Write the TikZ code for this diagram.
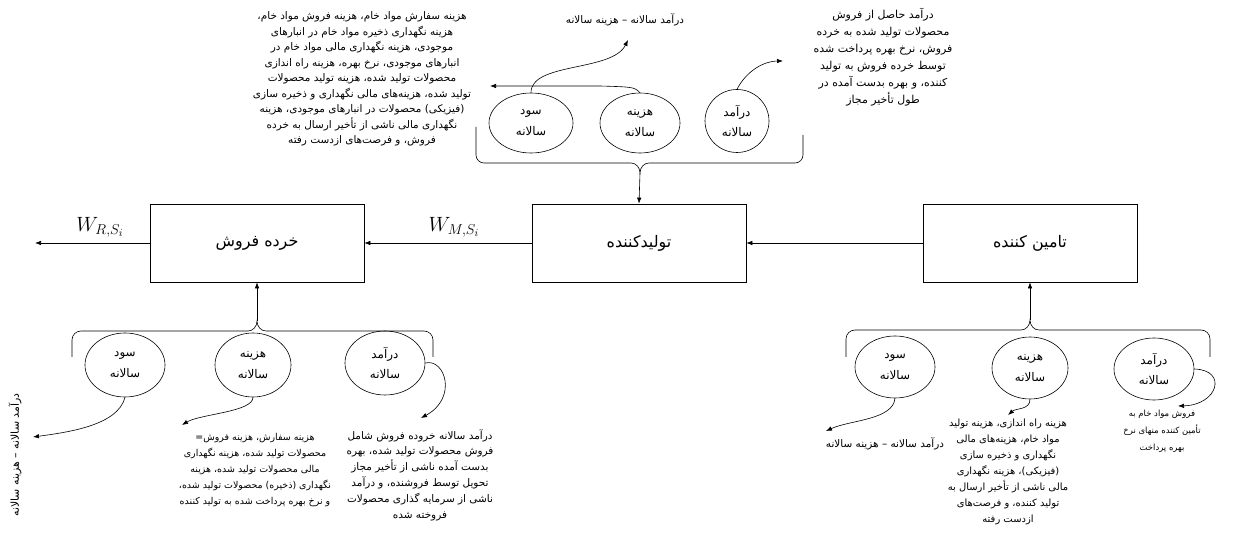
\documentclass[tikz,border=0pt]{standalone}
\usepackage{fontspec}
\usetikzlibrary{arrows.meta,shapes.geometric}
\TeXXeTstate=1
\newfontfamily\arabicfont[Script=Arabic]{DejaVu Sans}
\newcommand{\fa}[1]{\beginR #1\endR}
\begin{document}
\begin{tikzpicture}[x=1bp,y=-1bp,
  box/.style={draw, line width=0.7bp, minimum width=214bp, minimum height=78bp, inner sep=0pt,
    font=\arabicfont\fontsize{16}{19}\selectfont},
  ell/.style={draw, ellipse, line width=0.6bp, inner sep=0pt, align=center,
    font=\arabicfont\fontsize{12}{21}\selectfont},
  arr/.style={-{Latex[length=6bp,width=4.5bp]}, line width=0.6bp},
  con/.style={line width=0.6bp},
  lbl/.style={align=center, inner sep=0pt, font=\arabicfont\fontsize{10}{16}\selectfont},
  wl/.style={inner sep=0pt, font=\fontsize{22}{26}\selectfont}]
\useasboundingbox (0,0) rectangle (1236,538);
% boxes
\node[box] (R) at (257,243) {\fa{خرده فروش}};
\node[box] (M) at (639,243) {\fa{تولیدکننده}};
\node[box] (S) at (1030,243) {\fa{تامین کننده}};
\coordinate (wout) at (35,243);
\draw[arr] (S.west) -- (M.east);
\draw[arr] (M.west) -- (R.east);
\draw[arr] (R.west) -- (wout);
\node[wl] (wr) at (100,227) {$W_{R,S_i}$};
\node[wl] (wm) at (454,227) {$W_{M,S_i}$};
% top ellipses
\node[ell, minimum width=84bp, minimum height=60bp] (ts) at (531,123) {\fa{سود}\\\fa{سالانه}};
\node[ell, minimum width=80bp, minimum height=60bp] (th) at (640,123) {\fa{هزینه}\\\fa{سالانه}};
\node[ell, minimum width=64bp, minimum height=63bp] (td) at (737,121) {\fa{درآمد}\\\fa{سالانه}};
% top brace
\coordinate (tt) at (640,173);
\draw[con] (476,127) -- (476,155) to[out=-90,in=180] (484,163) -- (631,163) to[out=0,in=90] (tt)
  to[out=90,in=180] (649,163) -- (795,163) to[out=0,in=-90] (803,155) -- (803,135);
\draw[arr] (tt) -- (M.north);
% top texts
\node[lbl, font=\arabicfont\fontsize{10.5}{15.5}\selectfont] (tl) at (362,79) {\fa{هزینه سفارش مواد خام، هزینه فروش مواد خام،}\\
\fa{هزینه نگهداری ذخیره مواد خام در انبارهای}\\
\fa{موجودی، هزینه نگهداری مالی مواد خام در}\\
\fa{انبارهای موجودی، نرخ بهره، هزینه راه اندازی}\\
\fa{محصولات تولید شده، هزینه تولید محصولات}\\
\fa{تولید شده، هزینه‌های مالی نگهداری و ذخیره سازی}\\
\fa{(فیزیکی) محصولات در انبارهای موجودی، هزینه}\\
\fa{نگهداری مالی ناشی از تأخیر ارسال به خرده}\\
\fa{فروش، و فرصت‌های ازدست رفته}};
\node[lbl, font=\arabicfont\fontsize{10.5}{16}\selectfont] (tm) at (625,20) {\fa{درآمد سالانه – هزینه سالانه}};
\node[lbl, font=\arabicfont\fontsize{11}{17}\selectfont] (tr) at (883,57) {\fa{درآمد حاصل از فروش}\\
\fa{محصولات تولید شده به خرده}\\
\fa{فروش، نرخ بهره پرداخت شده}\\
\fa{توسط خرده فروش به تولید}\\
\fa{کننده، و بهره بدست آمده در}\\
\fa{طول تأخیر مجاز}};
\coordinate (tmtip) at (628,40);
\coordinate (tltip) at (490,86);
\coordinate (trtip) at (783,61);
\draw[arr] (ts.north) .. controls (531,62) and (612,72) .. (tmtip);
\draw[arr] (th.north) .. controls (634,87) .. (600,86) -- (tltip);
\draw[arr] (td.north) .. controls (747,70) and (765,61) .. (trtip);
% bottom-left
\node[ell, minimum width=80bp, minimum height=64bp] (bs1) at (125,365) {\fa{سود}\\\fa{سالانه}};
\node[ell, minimum width=76bp, minimum height=64bp] (bh1) at (253,365) {\fa{هزینه}\\\fa{سالانه}};
\node[ell, minimum width=80bp, minimum height=64bp] (bd1) at (385,363) {\fa{درآمد}\\\fa{سالانه}};
\coordinate (bt1) at (257,321);
\draw[con] (72,357) -- (72,340) to[out=90,in=180] (81,331) -- (248,331) to[out=0,in=-90] (bt1)
  to[out=-90,in=180] (266,331) -- (424,331) to[out=0,in=90] (433,340) -- (433,357);
\draw[arr] (bt1) -- (R.south);
\node[lbl, rotate=90, font=\arabicfont\fontsize{11}{16}\selectfont] (vt) at (15,455) {\fa{درآمد سالانه – هزینه سالانه}};
\node[lbl, anchor=north, font=\arabicfont\fontsize{9.5}{16}\selectfont] (bh1t) at (255,433) {\fa{هزینه سفارش، هزینه فروش=}\\
\fa{محصولات تولید شده، هزینه نگهداری}\\
\fa{مالی محصولات تولید شده، هزینه}\\
\fa{نگهداری (ذخیره) محصولات تولید شده،}\\
\fa{و نرخ بهره پرداخت شده به تولید کننده}};
\node[lbl, anchor=north, font=\arabicfont\fontsize{10.5}{16}\selectfont] (bd1t) at (420,429) {\fa{درآمد سالانه خروده فروش شامل}\\
\fa{فروش محصولات تولید شده، بهره}\\
\fa{بدست آمده ناشی از تأخیر مجاز}\\
\fa{تحویل توسط فروشنده، و درآمد}\\
\fa{ناشی از سرمایه گذاری محصولات}\\
\fa{فروخته شده}};
\coordinate (bs1tip) at (33,437);
\coordinate (bh1tip) at (182,425);
\coordinate (bd1tip) at (421,418);
\draw[arr] (bs1.south) .. controls (118,425) and (70,432) .. (bs1tip);
\draw[arr] (bh1.south) .. controls (253,412) and (200,414) .. (bh1tip);
\draw[arr] (bd1.east) .. controls (445,358) and (458,398) .. (bd1tip);
% bottom-right
\node[ell, minimum width=80bp, minimum height=62bp] (bs2) at (895,367) {\fa{سود}\\\fa{سالانه}};
\node[ell, minimum width=76bp, minimum height=62bp] (bh2) at (1030,368) {\fa{هزینه}\\\fa{سالانه}};
\node[ell, minimum width=80bp, minimum height=62bp] (bd2) at (1154,369) {\fa{درآمد}\\\fa{سالانه}};
\coordinate (bt2) at (1030,320);
\draw[con] (846,357) -- (846,339) to[out=90,in=180] (855,330) -- (1021,330) to[out=0,in=-90] (bt2)
  to[out=-90,in=180] (1039,330) -- (1201,330) to[out=0,in=90] (1210,339) -- (1210,357);
\draw[arr] (bt2) -- (S.south);
\node[lbl, font=\arabicfont\fontsize{10.5}{16}\selectfont] (bs2t) at (885,444) {\fa{درآمد سالانه – هزینه سالانه}};
\node[lbl, anchor=north] (bh2t) at (1008,419) {\fa{هزینه راه اندازی، هزینه تولید}\\
\fa{مواد خام، هزینه‌های مالی}\\
\fa{نگهداری و ذخیره سازی}\\
\fa{(فیزیکی)، هزینه نگهداری}\\
\fa{مالی ناشی از تأخیر ارسال به}\\
\fa{تولید کننده، و فرصت‌های}\\
\fa{ازدست رفته}};
\node[lbl, anchor=north, font=\arabicfont\fontsize{8.5}{17}\selectfont] (bd2t) at (1162,410) {\fa{فروش مواد خام به}\\
\fa{تأمین کننده منهای نرخ}\\
\fa{بهره پرداخت}};
\coordinate (bs2tip) at (826,431);
\coordinate (bh2tip) at (1008,415);
\coordinate (bd2tip) at (1178,406);
\draw[arr] (bs2.south) .. controls (893,420) and (850,420) .. (bs2tip);
\draw[arr] (bh2.south) .. controls (1030,410) and (1016,408) .. (bh2tip);
\draw[arr] (bd2.east) .. controls (1228,370) and (1218,405) .. (bd2tip);
\end{tikzpicture}
\end{document}
